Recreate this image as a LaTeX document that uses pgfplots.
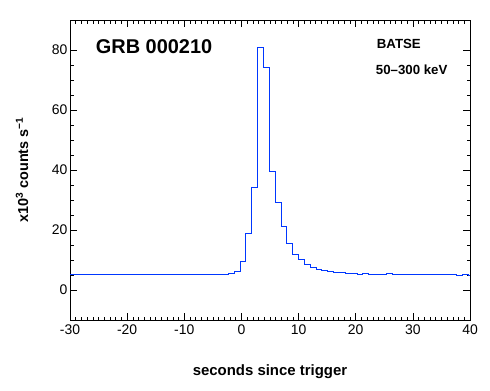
\documentclass[border=0pt]{standalone}
\usepackage{fontspec}
\setmainfont{Liberation Sans}
\usepackage{pgfplots}
\pgfplotsset{compat=1.18}
\definecolor{lcblue}{RGB}{0,55,255}
\begin{document}
\begin{tikzpicture}
\begin{axis}[
  scale only axis,
  width=400bp, height=300bp,
  xmin=-30, xmax=40, ymin=-10, ymax=90,
  xtick={-30,-20,...,40}, ytick={0,20,...,80},
  minor x tick num=9, minor y tick num=3,
  tick align=inside,
  major tick length=7bp, minor tick length=3.5bp,
  every tick/.style={black, line width=0.6pt},
  axis line style={line width=0.8pt},
  /pgf/number format/assume math mode=true,
  ticklabel style={font=\fontsize{14}{16}\selectfont},
  xticklabel style={yshift=-1.5bp},
  yticklabel style={xshift=1bp},
  xlabel={\bfseries seconds since trigger},
  ylabel={\bfseries x10\textsuperscript{3} counts s\textsuperscript{−1}},
  xlabel style={font=\fontsize{15}{17}\selectfont, at={(rel axis cs:0.5,-0.1733)}, anchor=center},
  ylabel style={font=\fontsize{14.5}{17}\selectfont, at={(rel axis cs:-0.12,0.5)}, anchor=center},
  clip=true,
]
\addplot[const plot mark left, color=lcblue, line width=0.9pt, mark=none] coordinates {
(-30,5.25) (-2.3,5.6) (-1.276,6.2) (-0.252,9.6) (0.772,19.0) (1.796,34.3)
(2.82,80.9) (3.844,74.3) (4.868,39.6) (5.892,29.3) (6.916,21.2) (7.94,15.6)
(8.964,11.9) (9.988,10.2) (11.012,8.6) (12.036,7.6) (13.06,6.9) (14.084,6.6)
(15.108,6.2) (16.132,5.9) (17.156,5.9) (18.18,5.6) (19.204,5.6) (20.228,5.2)
(21.252,5.6) (22.276,5.2) (23.3,5.2) (24.324,5.2) (25.348,5.6) (26.372,5.2)
(30,5.2) (35,5.2) (37.636,4.9) (38.66,5.3) (39.684,4.9) (40,4.9)
};
\node[anchor=west, font=\fontsize{20}{22}\selectfont\bfseries, inner sep=0pt] at (axis cs:-25.5,81.1) {GRB 000210};
\node[anchor=west, font=\fontsize{13.3}{15}\selectfont\bfseries, inner sep=0pt] at (axis cs:23.67,82) {BATSE};
\node[anchor=west, font=\fontsize{13.3}{15}\selectfont\bfseries, inner sep=0pt] at (axis cs:23.5,73.3) {50–300 keV};
\coordinate (bl) at (rel axis cs:-0.175,-0.2333);
\coordinate (tr) at (rel axis cs:1.05,1.0667);
\end{axis}
\path (bl) rectangle (tr);
\end{tikzpicture}
\end{document}
